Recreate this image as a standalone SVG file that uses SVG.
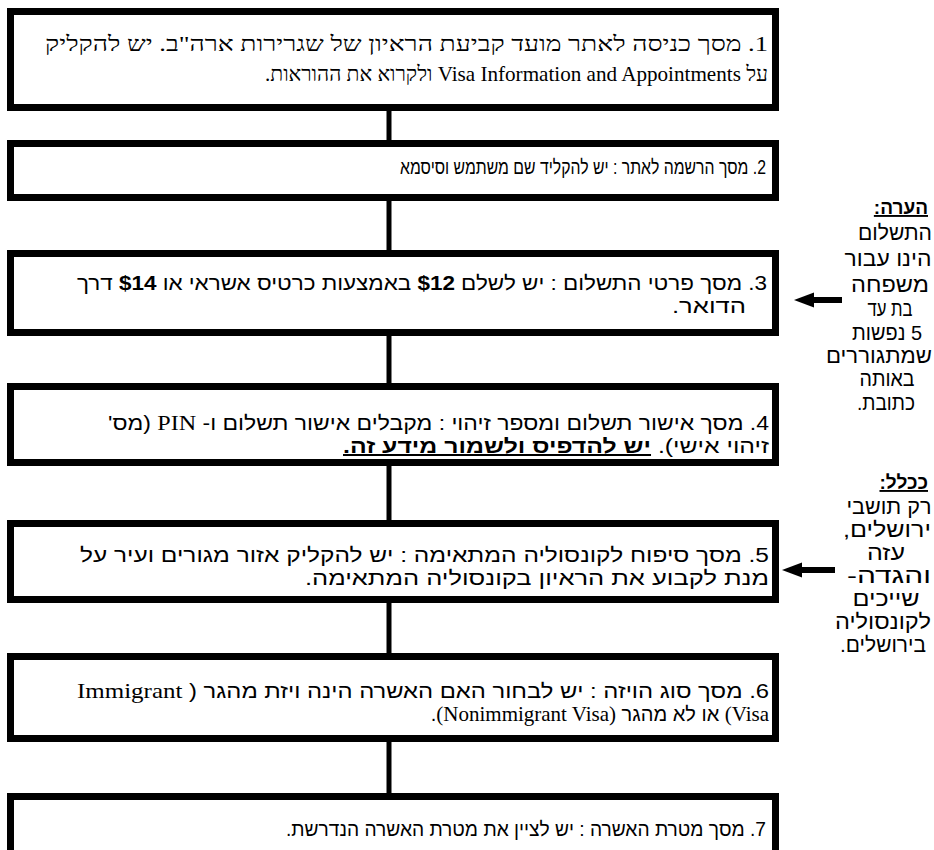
<svg xmlns="http://www.w3.org/2000/svg" width="934" height="850" viewBox="0 0 934 850">
<style>
.box{fill:#fff;stroke:#000;stroke-width:7}
.conn{stroke:#000;stroke-width:5;fill:none}
.t{font-family:"Liberation Serif","DejaVu Serif",serif;font-size:21px;fill:#000}
.s{font-family:"Liberation Sans","DejaVu Sans",sans-serif;font-size:20px;fill:#000}
.n{font-family:"Liberation Sans","DejaVu Sans",sans-serif;font-size:21px;fill:#000}
.h{font-family:"Liberation Sans","DejaVu Sans",sans-serif;font-size:19px;fill:#000;font-weight:bold;text-decoration:underline}
.b{font-weight:bold;text-decoration:underline}
</style>
<rect width="934" height="850" fill="#fff"/>
<g id="connectors">
<line class="conn" x1="389" y1="110" x2="389" y2="141"/>
<line class="conn" x1="389" y1="200" x2="389" y2="251"/>
<line class="conn" x1="389" y1="335" x2="389" y2="384"/>
<line class="conn" x1="389" y1="465" x2="389" y2="521"/>
<line class="conn" x1="389" y1="602" x2="389" y2="654"/>
<line class="conn" x1="389" y1="741" x2="389" y2="794"/>
</g>
<g id="node1">
<rect class="box" x="10.5" y="11.5" width="765" height="96"/>
<text class="t" x="768" y="51" direction="rtl" text-anchor="start" textLength="723" lengthAdjust="spacingAndGlyphs">1. מסך כניסה לאתר מועד קביעת הראיון של שגרירות ארה"ב. יש להקליק</text>
<text class="t" x="768" y="81" direction="rtl" text-anchor="start" textLength="503" lengthAdjust="spacingAndGlyphs">על Visa Information and Appointments ולקרוא את ההוראות.</text>
</g>
<g id="node2">
<rect class="box" x="10.5" y="143.5" width="765" height="54"/>
<text class="s" x="766" y="174" direction="rtl" text-anchor="start" textLength="366" lengthAdjust="spacingAndGlyphs">2. מסך הרשמה לאתר : יש להקליד שם משתמש וסיסמא</text>
</g>
<g id="node3">
<rect class="box" x="10.5" y="253.5" width="765" height="79"/>
<text class="s" x="767" y="290" direction="rtl" text-anchor="start" textLength="690" lengthAdjust="spacingAndGlyphs">3. מסך פרטי התשלום : יש לשלם <tspan font-weight="bold">$12</tspan> באמצעות כרטיס אשראי או <tspan font-weight="bold">$14</tspan> דרך</text>
<text class="s" x="746" y="313" direction="rtl" text-anchor="start" textLength="74" lengthAdjust="spacingAndGlyphs">הדואר.</text>
</g>
<g id="node4">
<rect class="box" x="10.5" y="386.5" width="765" height="76"/>
<text class="s" x="769" y="430" direction="rtl" text-anchor="start" textLength="661" lengthAdjust="spacingAndGlyphs">4. מסך אישור תשלום ומספר זיהוי : מקבלים אישור תשלום ו- <tspan class="t">PIN</tspan> (מס'</text>
<text class="s" x="769" y="453" direction="rtl" text-anchor="start" textLength="426" lengthAdjust="spacingAndGlyphs">זיהוי אישי). <tspan class="b">יש להדפיס ולשמור מידע זה.</tspan></text>
</g>
<g id="node5">
<rect class="box" x="10.5" y="523.5" width="765" height="76"/>
<text class="s" x="769" y="562" direction="rtl" text-anchor="start" textLength="689" lengthAdjust="spacingAndGlyphs">5. מסך סיפוח לקונסוליה המתאימה : יש להקליק אזור מגורים ועיר על</text>
<text class="s" x="769" y="585" direction="rtl" text-anchor="start" textLength="464" lengthAdjust="spacingAndGlyphs">מנת לקבוע את הראיון בקונסוליה המתאימה.</text>
</g>
<g id="node6">
<rect class="box" x="10.5" y="656.5" width="765" height="82"/>
<text class="s" x="769" y="698" direction="rtl" text-anchor="start" textLength="692" lengthAdjust="spacingAndGlyphs">6. מסך סוג הויזה : יש לבחור האם האשרה הינה ויזת מהגר ( <tspan class="t">Immigrant</tspan></text>
<text class="s" x="769" y="721" direction="rtl" text-anchor="start"><tspan class="t">Visa)</tspan> או לא מהגר <tspan class="t">(Nonimmigrant Visa)</tspan>.</text>
</g>
<g id="node7">
<rect class="box" x="10.5" y="796.5" width="765" height="80"/>
<text class="s" x="766" y="836" direction="rtl" text-anchor="start" textLength="480" lengthAdjust="spacingAndGlyphs">7. מסך מטרת האשרה : יש לציין את מטרת האשרה הנדרשת.</text>
</g>
<g id="arrow1">
<rect x="810" y="297" width="32" height="6" fill="#000"/>
<polygon points="794,300 814,292.5 814,307.5" fill="#000"/>
</g>
<g id="arrow2">
<rect x="798" y="567" width="37" height="6" fill="#000"/>
<polygon points="782,570 802,562.5 802,577.5" fill="#000"/>
</g>
<g id="note1">
<text class="h" x="928" y="214" direction="rtl" text-anchor="start">הערה:</text>
<text class="n" x="895" y="240" direction="rtl" text-anchor="middle" textLength="74" lengthAdjust="spacingAndGlyphs">התשלום</text>
<text class="n" x="888" y="266" direction="rtl" text-anchor="middle" textLength="87" lengthAdjust="spacingAndGlyphs">הינו עבור</text>
<text class="n" x="890" y="292" direction="rtl" text-anchor="middle" textLength="78" lengthAdjust="spacingAndGlyphs">משפחה</text>
<text class="n" x="890" y="316" direction="rtl" text-anchor="middle" textLength="45" lengthAdjust="spacingAndGlyphs">בת עד</text>
<text class="n" x="887" y="340" direction="rtl" text-anchor="middle" textLength="70" lengthAdjust="spacingAndGlyphs">5 נפשות</text>
<text class="n" x="879" y="363" direction="rtl" text-anchor="middle" textLength="106" lengthAdjust="spacingAndGlyphs">שמתגוררים</text>
<text class="n" x="887" y="386" direction="rtl" text-anchor="middle" textLength="55" lengthAdjust="spacingAndGlyphs">באותה</text>
<text class="n" x="886" y="410" direction="rtl" text-anchor="middle" textLength="58" lengthAdjust="spacingAndGlyphs">כתובת.</text>
</g>
<g id="note2">
<text class="h" x="928" y="489" direction="rtl" text-anchor="start">ככלל:</text>
<text class="n" x="889" y="514" direction="rtl" text-anchor="middle" textLength="85" lengthAdjust="spacingAndGlyphs">רק תושבי</text>
<text class="n" x="887" y="537" direction="rtl" text-anchor="middle" textLength="88" lengthAdjust="spacingAndGlyphs">ירושלים,</text>
<text class="n" x="886" y="560" direction="rtl" text-anchor="middle" textLength="38" lengthAdjust="spacingAndGlyphs">עזה</text>
<text class="n" x="889" y="583" direction="rtl" text-anchor="middle" textLength="84" lengthAdjust="spacingAndGlyphs">והגדה-</text>
<text class="n" x="886" y="606" direction="rtl" text-anchor="middle" textLength="67" lengthAdjust="spacingAndGlyphs">שייכים</text>
<text class="n" x="883" y="629" direction="rtl" text-anchor="middle" textLength="96" lengthAdjust="spacingAndGlyphs">לקונסוליה</text>
<text class="n" x="883" y="652" direction="rtl" text-anchor="middle" textLength="86" lengthAdjust="spacingAndGlyphs">בירושלים.</text>
</g>
</svg>
